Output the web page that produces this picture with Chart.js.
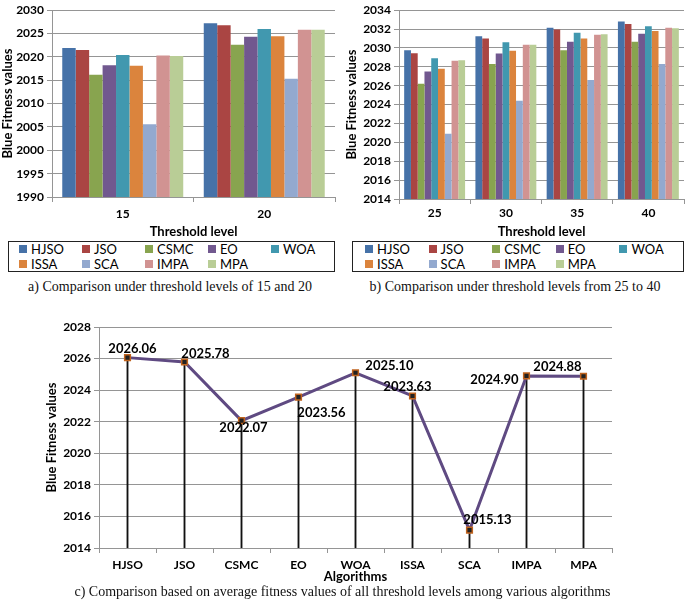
<!DOCTYPE html>
<html>
<head>
<meta charset="utf-8">
<script src="https://cdn.jsdelivr.net/npm/chart.js@4.4.1/dist/chart.umd.min.js"></script>
<style>
  body { margin: 0; background: #fff; width: 685px; height: 602px; position: relative; overflow: hidden; font-family: Lato, sans-serif; }
  .box { position: absolute; }
  .legend { position: absolute; border: 1px solid #222; box-sizing: border-box; display: grid; grid-template-columns: repeat(5, 1fr); align-content: center; row-gap: 1px; font-size: 13px; color: #000; }
  .legend span.item { display: flex; align-items: center; line-height: 14px; }
  .legend span.sw { display: inline-block; width: 8px; height: 8px; margin-right: 4px; }
  .cap { position: absolute; font-family: 'Liberation Serif', serif; font-size: 14px; color: #111; text-align: center; white-space: nowrap; }
</style>
</head>
<body>
<div class="box" style="left:0;top:0;width:340px;height:240px"><canvas id="chartA"></canvas></div>
<div class="legend" id="legendA" style="left:8px;top:241px;width:327px;height:31px;padding-left:10px"></div>
<div class="cap" style="left:0;top:279px;width:340px">a) Comparison under threshold levels of 15 and 20</div>

<div class="box" style="left:340px;top:0;width:345px;height:240px"><canvas id="chartB"></canvas></div>
<div class="legend" id="legendB" style="left:352px;top:241px;width:332px;height:31px;padding-left:12px"></div>
<div class="cap" style="left:345px;top:279px;width:340px">b) Comparison under threshold levels from 25 to 40</div>

<div class="box" style="left:0;top:310px;width:685px;height:275px"><canvas id="chartC"></canvas></div>
<div class="cap" style="left:0;top:584px;width:685px">c) Comparison based on average fitness values of all threshold levels among various algorithms</div>

<script>
// threshold levels 15, 20, 25, 30, 35, 40
const levelsA = ['15', '20']
const levelsB = ['25', '30', '35', '40']

const algorithms = ['HJSO', 'JSO', 'CSMC', 'EO', 'WOA', 'ISSA', 'SCA', 'IMPA', 'MPA']
const colors = ['#4672a8', '#aa4543', '#88a44f', '#71588f', '#4198af', '#db843d', '#93a9cf', '#d19392', '#b9cd96']

const hjso = [2021.9, 2027.2, 2029.75, 2031.25, 2032.15, 2032.8]
const jso  = [2021.5, 2026.8, 2029.45, 2031.0, 2031.95, 2032.55]
const csmc = [2016.2, 2022.6, 2026.2, 2028.3, 2029.75, 2030.65]
const eo   = [2018.2, 2024.3, 2027.5, 2029.4, 2030.65, 2031.5]
const woa  = [2020.4, 2026.0, 2028.9, 2030.6, 2031.6, 2032.3]
const issa = [2018.1, 2024.4, 2027.8, 2029.7, 2031.0, 2031.8]
const sca  = [2005.6, 2015.3, 2020.9, 2024.4, 2026.6, 2028.3]
const impa = [2020.3, 2025.8, 2028.65, 2030.35, 2031.4, 2032.15]
const mpa  = [2020.2, 2025.8, 2028.7, 2030.35, 2031.45, 2032.1]

// average over all threshold levels
const averages = [2026.06, 2025.78, 2022.07, 2023.56, 2025.10, 2023.63, 2015.13, 2024.90, 2024.88]

const series = [hjso, jso, csmc, eo, woa, issa, sca, impa, mpa]

const tickFont = { family: 'Lato', weight: 'bold', size: 12 }
const titleFont = { family: 'Lato', weight: 'bold', size: 13 }
const gridColor = '#959595'
const plain = (v) => String(v)

const buildLegend = (id) => {
  const el = document.getElementById(id)
  algorithms.forEach((name, i) => {
    const item = document.createElement('span')
    item.className = 'item'
    item.innerHTML = `<span class="sw" style="background:${colors[i]}"></span>${name}`
    el.appendChild(item)
  })
}
buildLegend('legendA')
buildLegend('legendB')

const barChart = (id, labels, from, to, yMin, yMax, step, yWidth, xHeight, xPad, titlePad, rightPad) => {
  new Chart(document.getElementById(id), {
    type: 'bar',
    data: {
      labels: labels,
      datasets: algorithms.map((name, i) => ({
        label: name,
        data: series[i].slice(from, to),
        backgroundColor: colors[i],
        borderWidth: 0,
        categoryPercentage: 0.855,
        barPercentage: 1
      }))
    },
    options: {
      responsive: true,
      maintainAspectRatio: false,
      animation: false,
      layout: { padding: { top: 5, right: rightPad, left: 0, bottom: 0 } },
      plugins: { legend: { display: false }, tooltip: { enabled: false } },
      scales: {
        x: {
          offset: true,
          grid: { offset: true, drawOnChartArea: false, drawTicks: true, tickLength: 5, color: gridColor },
          border: { color: gridColor },
          ticks: { font: tickFont, color: '#000', padding: xPad },
          title: { display: true, text: 'Threshold level', font: titleFont, color: '#000', padding: 0 },
          afterFit: (s) => { s.height = xHeight }
        },
        y: {
          min: yMin,
          max: yMax,
          grid: { color: gridColor, tickLength: 5 },
          border: { color: gridColor },
          ticks: { stepSize: step, font: tickFont, color: '#000', padding: 3, callback: plain },
          title: { display: true, text: 'Blue Fitness values', font: titleFont, color: '#000', padding: { top: titlePad, bottom: 0 } },
          afterFit: (s) => { s.width = yWidth }
        }
      }
    }
  })
}

barChart('chartA', levelsA, 0, 2, 1990, 2030, 5, 52, 43, 5, 0, 5)
barChart('chartB', levelsB, 2, 6, 2014, 2034, 2, 59, 41, 2, 4, 1)

// label offsets for chart c (dx, dy from point)
const labelOffsets = [[5, -9], [21, -8], [2, 7], [23, 16], [34, -7], [-5, -9], [18, -10], [-32, 4], [-26, -9]]

const pointLabels = {
  id: 'pointLabels',
  afterDatasetsDraw(chart) {
    const ctx = chart.ctx
    const meta = chart.getDatasetMeta(0)
    ctx.save()
    ctx.font = 'bold 13px Lato'
    ctx.fillStyle = '#000'
    ctx.textAlign = 'center'
    ctx.textBaseline = 'middle'
    meta.data.forEach((pt, i) => {
      const [dx, dy] = labelOffsets[i]
      ctx.fillText(averages[i].toFixed(2), pt.x + dx, pt.y + dy)
    })
    ctx.restore()
  }
}

new Chart(document.getElementById('chartC'), {
  type: 'bar',
  data: {
    labels: algorithms,
    datasets: [
      {
        type: 'line',
        label: 'Average',
        data: averages,
        borderColor: '#5f4a82',
        borderWidth: 3,
        pointStyle: 'rect',
        pointRadius: 4,
        pointBackgroundColor: '#222',
        pointBorderColor: '#c0631e',
        pointBorderWidth: 1.5,
        order: 0
      },
      {
        type: 'bar',
        label: 'drop',
        data: averages.map(v => [2014, v]),
        backgroundColor: '#111',
        barThickness: 1.2,
        order: 1
      }
    ]
  },
  options: {
    responsive: true,
    maintainAspectRatio: false,
    animation: false,
    layout: { padding: { top: 17, right: 73, left: 0, bottom: 0 } },
    plugins: { legend: { display: false }, tooltip: { enabled: false } },
    scales: {
      x: {
        offset: true,
        grid: { offset: true, drawOnChartArea: false, drawTicks: true, tickLength: 5, color: gridColor },
        border: { color: gridColor },
        ticks: { font: tickFont, color: '#000', padding: 5 },
        title: { display: true, text: 'Algorithms', font: titleFont, color: '#000', padding: 0 },
        afterFit: (s) => { s.height = 37 }
      },
      y: {
        min: 2014,
        max: 2028,
        grid: { color: gridColor, tickLength: 5 },
        border: { color: gridColor },
        ticks: { stepSize: 2, font: tickFont, color: '#000', padding: 3, callback: plain },
        title: { display: true, text: 'Blue Fitness values', font: titleFont, color: '#000', padding: { top: 44, bottom: 0 } },
        afterFit: (s) => { s.width = 99 }
      }
    }
  },
  plugins: [pointLabels]
})
</script>
</body>
</html>
